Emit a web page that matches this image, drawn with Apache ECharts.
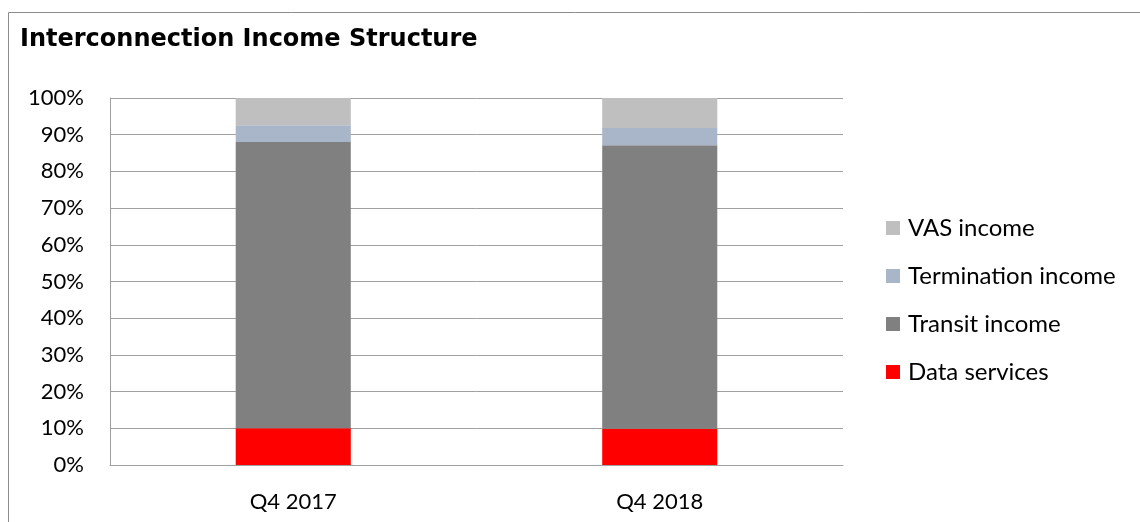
<!DOCTYPE html>
<html>
<head>
<meta charset="utf-8">
<script src="https://cdn.jsdelivr.net/npm/echarts@6/dist/echarts.min.js"></script>
<style>
  html, body { margin: 0; padding: 0; background: #fff; }
  #chart { width: 1140px; height: 522px; }
</style>
</head>
<body>
<div id="chart"></div>
<script>
const quarters = ['Q4 2017', 'Q4 2018'];
const dataServices = [10.0, 9.9];
const transitIncome = [78.0, 77.2];
const terminationIncome = [4.6, 4.7];
const vasIncome = [7.4, 8.2];
const legendOrder = ['VAS income', 'Termination income', 'Transit income', 'Data services'];

const chart = echarts.init(document.getElementById('chart'));
const font = 'Lato, "Open Sans", sans-serif';

function bar(name, values, color) {
  return {
    name: name,
    type: 'bar',
    stack: 'total',
    barWidth: '31.4%',
    itemStyle: { color: color },
    data: values
  };
}

chart.setOption({
  animation: false,
  graphic: [{
    type: 'rect',
    shape: { x: 8.5, y: 12.5, width: 1140, height: 520 },
    style: { fill: 'none', stroke: '#8c8c8c', lineWidth: 1 }
  }],
  title: {
    text: 'Interconnection Income Structure',
    left: 15,
    top: 23,
    textStyle: {
      fontFamily: '"DejaVu Sans", Verdana, sans-serif',
      fontWeight: 'bold',
      fontSize: 24,
      color: '#000'
    }
  },
  legend: {
    data: legendOrder,
    orient: 'vertical',
    left: 881,
    top: 211,
    itemWidth: 14,
    itemHeight: 14,
    itemGap: 24,
    icon: 'rect',
    textStyle: { fontFamily: font, fontSize: 24, lineHeight: 24, color: '#000', padding: [0, 0, 0, 3] }
  },
  grid: { left: 110, right: 297, top: 98, bottom: 57 },
  xAxis: {
    type: 'category',
    data: quarters,
    axisLine: { lineStyle: { color: '#a0a0a0' } },
    axisTick: { show: false },
    axisLabel: { fontFamily: font, fontSize: 22, color: '#000', margin: 26 }
  },
  yAxis: {
    type: 'value',
    min: 0,
    max: 100,
    interval: 10,
    axisLine: { show: true, lineStyle: { color: '#a0a0a0' } },
    axisTick: { show: false },
    splitLine: { lineStyle: { color: '#a0a0a0' } },
    axisLabel: { formatter: '{value}%', fontFamily: font, fontSize: 22, color: '#000', margin: 26 }
  },
  series: [
    bar('Data services', dataServices, '#ff0000'),
    bar('Transit income', transitIncome, '#808080'),
    bar('Termination income', terminationIncome, '#a9b5c8'),
    bar('VAS income', vasIncome, '#bfbfbf')
  ]
});
</script>
</body>
</html>
